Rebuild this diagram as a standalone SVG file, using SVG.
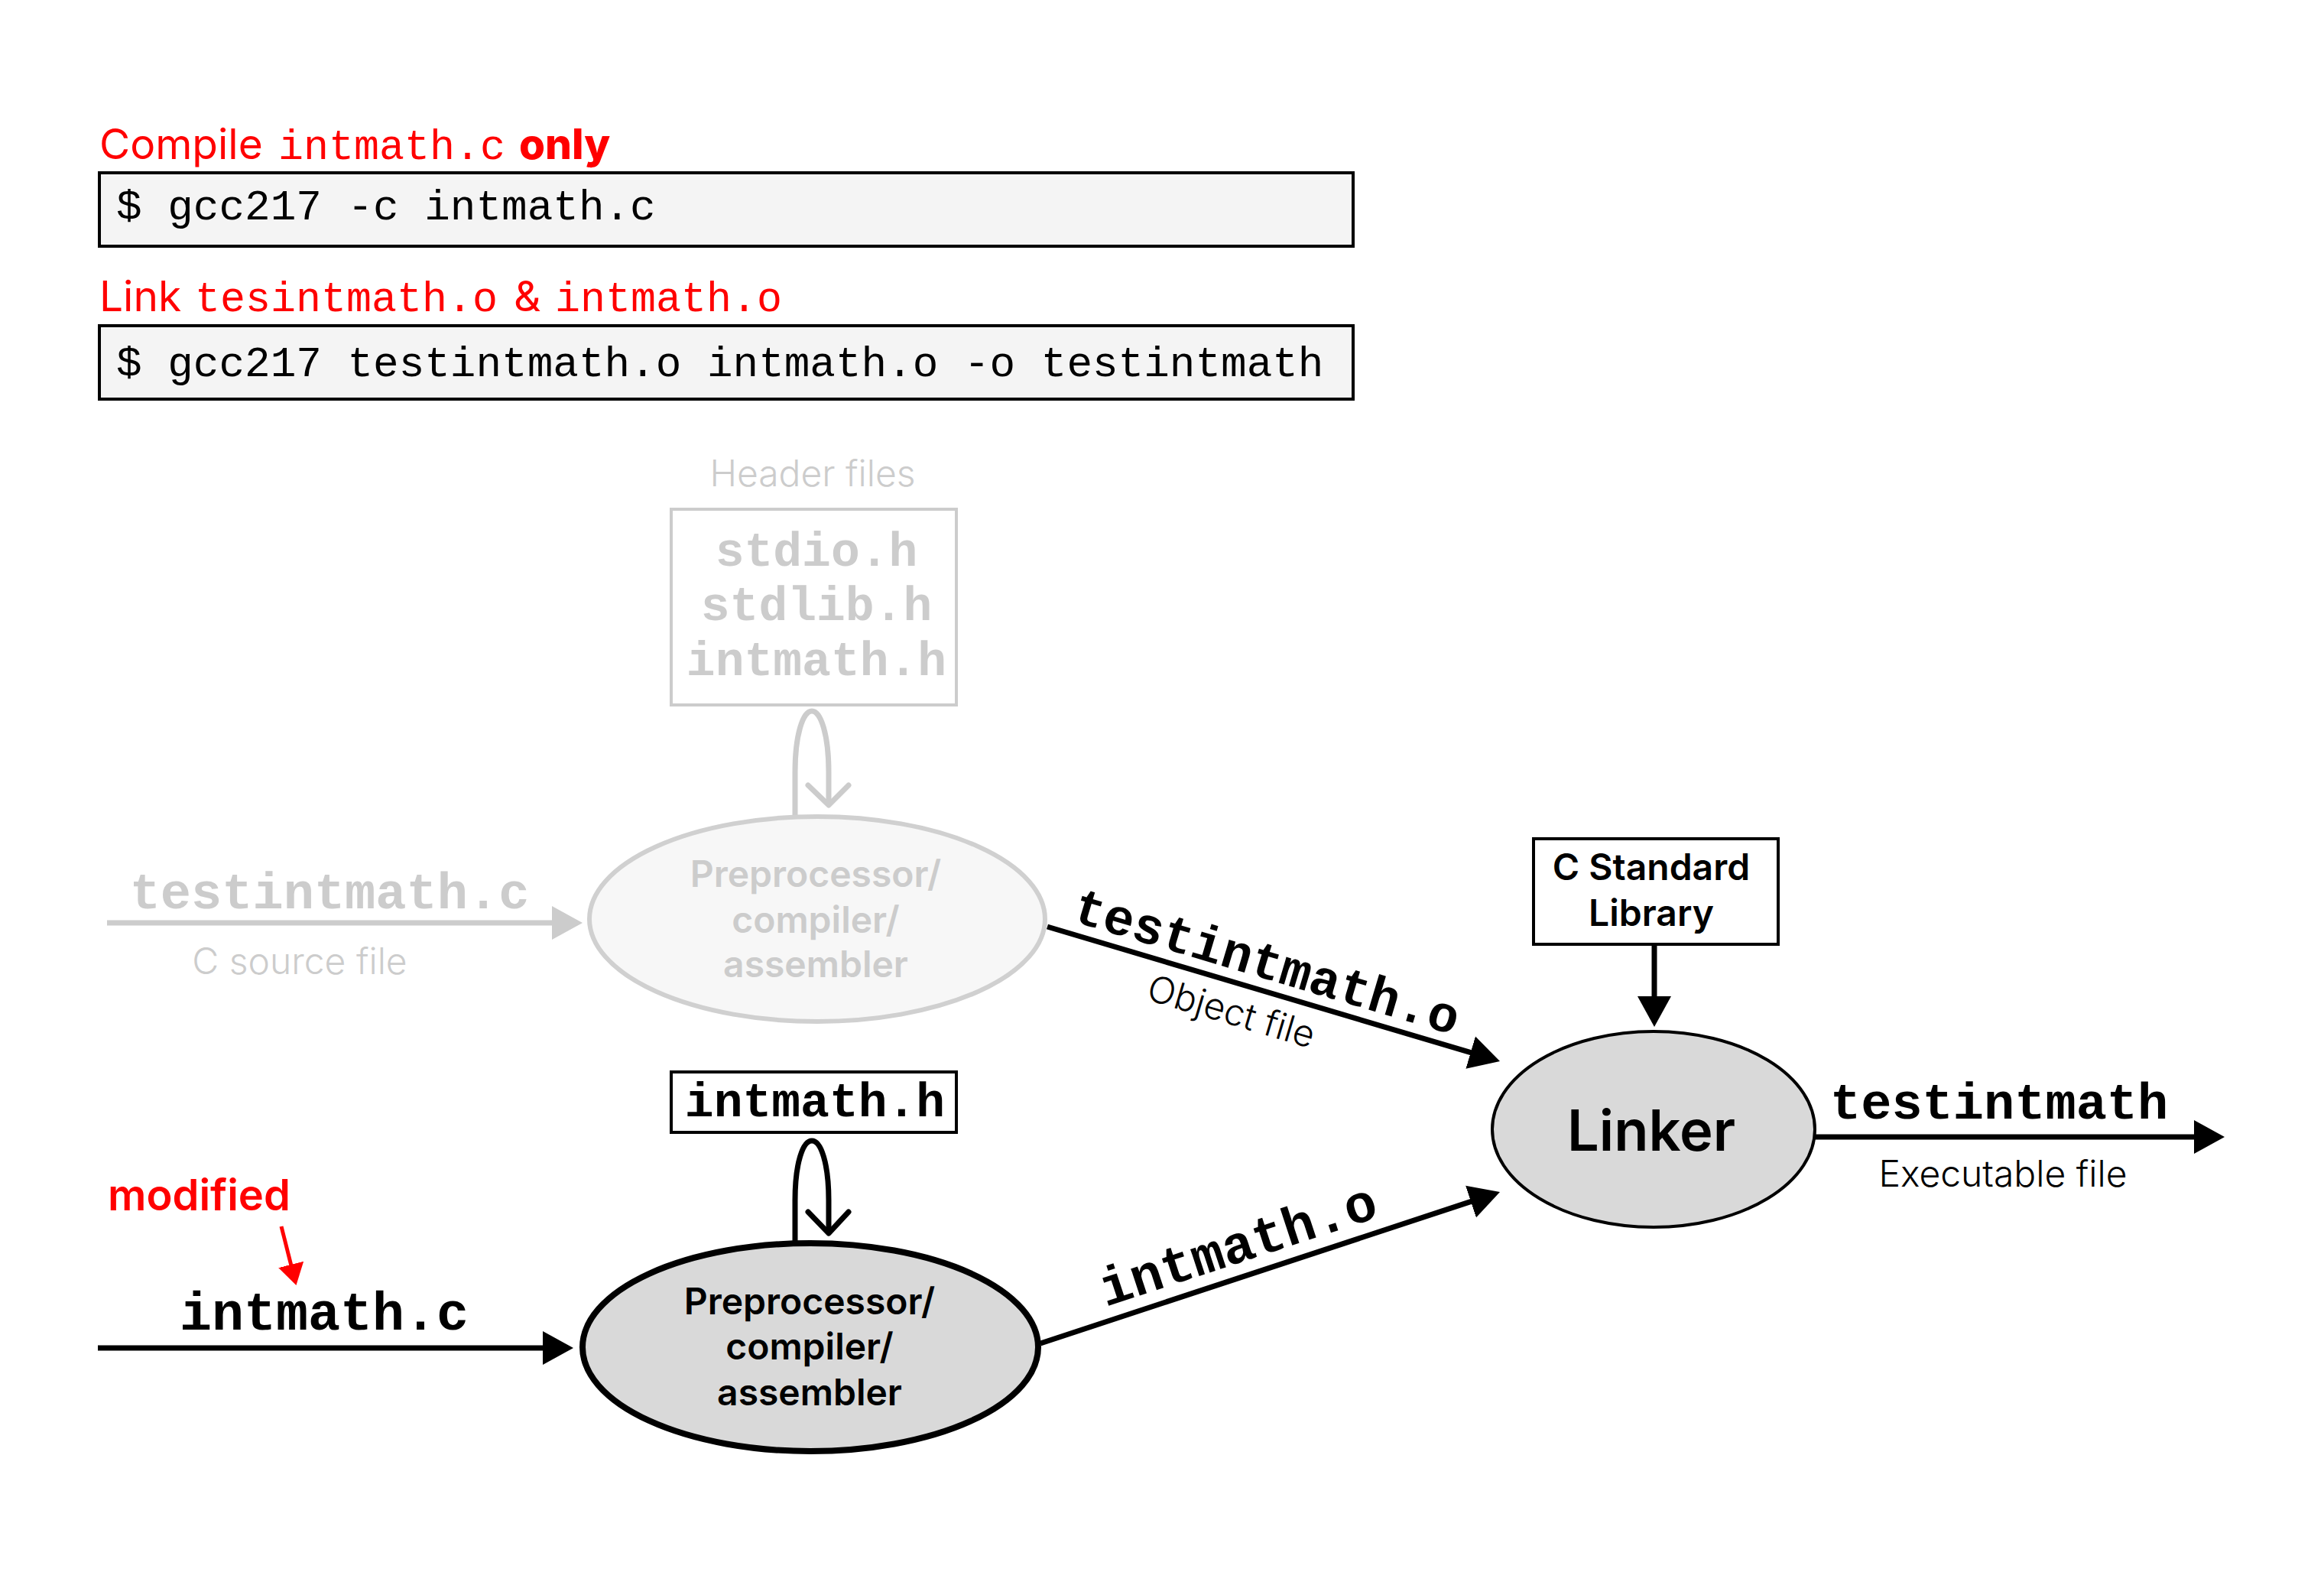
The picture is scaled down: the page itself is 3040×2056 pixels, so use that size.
<svg xmlns="http://www.w3.org/2000/svg" width="3040" height="2056" viewBox="0 0 3040 2056">
  <style>
    .sans { font-family: Inter, "Liberation Sans", sans-serif; }
    .mono { font-family: "Liberation Mono", "DejaVu Sans Mono", monospace; }
    .red { fill: #ff0000; }
    .cmdbox { fill: #f4f4f4; stroke: #000; stroke-width: 4; }
    .cmd { font-size: 56px; fill: #000; }
    .fname { font-weight: 700; }
    .note { font-weight: 300; font-size: 48px; }
    .proc { font-weight: 600; font-size: 48px; text-anchor: middle; }
    .faded { fill: #cccccc; }
    .wire { fill: none; stroke: #000; stroke-width: 7; }
    .wire-faded { fill: none; stroke: #cccccc; stroke-width: 7; }
  </style>
  <defs>
    <marker id="head" markerUnits="userSpaceOnUse" markerWidth="42" markerHeight="46" refX="2" refY="23" orient="auto">
      <path d="M0,1 L40,23 L0,45 z" fill="#000"/>
    </marker>
    <marker id="head-faded" markerUnits="userSpaceOnUse" markerWidth="42" markerHeight="46" refX="2" refY="23" orient="auto">
      <path d="M0,1 L40,23 L0,45 z" fill="#cccccc"/>
    </marker>
    <marker id="head-red" markerUnits="userSpaceOnUse" markerWidth="30" markerHeight="36" refX="2" refY="18" orient="auto">
      <path d="M0,1 L28,18 L0,35 z" fill="#ff0000"/>
    </marker>
  </defs>

  <rect width="3040" height="2056" fill="#ffffff"/>

  <!-- command panel: compile step -->
  <g id="compile-step">
    <text class="sans red" x="130" y="208" font-size="55">Compile</text>
    <text class="mono red" x="364" y="208" font-size="55">intmath.c</text>
    <text class="sans red" x="679" y="208" font-size="55" font-weight="800">only</text>
    <rect class="cmdbox" x="130" y="226" width="1640" height="96"/>
    <text class="mono cmd" x="152" y="287" xml:space="preserve">$ gcc217 -c intmath.c</text>
  </g>

  <!-- command panel: link step -->
  <g id="link-step">
    <text class="sans red" x="130" y="407" font-size="55">Link</text>
    <text class="mono red" x="255" y="407" font-size="55">tesintmath.o</text>
    <text class="sans red" x="672" y="407" font-size="55">&amp;</text>
    <text class="mono red" x="726" y="407" font-size="55">intmath.o</text>
    <rect class="cmdbox" x="130" y="426" width="1640" height="96"/>
    <text class="mono cmd" x="152" y="492" xml:space="preserve">$ gcc217 testintmath.o intmath.o -o testintmath</text>
  </g>

  <!-- connectors -->
  <g id="connectors">
    <!-- faded path: testintmath.c -> preprocessor -->
    <line class="wire-faded" x1="140" y1="1207" x2="724" y2="1207" marker-end="url(#head-faded)"/>
    <!-- faded header self-include loop -->
    <path class="wire-faded" stroke-width="6" d="M1040 1068 V1010 C1040 962 1050 930 1062 930 C1074 930 1084 962 1084 1010 V1053"/>
    <polyline class="wire-faded" stroke-width="6" stroke-linecap="round" stroke-linejoin="round" points="1057,1027 1084,1053 1110,1027"/>
    <!-- testintmath.o -> linker -->
    <line class="wire" x1="1370" y1="1212" x2="1925.6" y2="1377.2" marker-end="url(#head)"/>
    <!-- C standard library -> linker -->
    <line class="wire" x1="2164" y1="1235" x2="2164" y2="1305" marker-end="url(#head)"/>
    <!-- linker -> executable -->
    <line class="wire" stroke-width="8" x1="2374" y1="1487" x2="2872" y2="1487" marker-end="url(#head)"/>
    <!-- intmath.c -> preprocessor -->
    <line class="wire" stroke-width="8" x1="128" y1="1763" x2="712" y2="1763" marker-end="url(#head)"/>
    <!-- intmath.h self-include loop -->
    <path class="wire" d="M1040 1626 V1570 C1040 1522 1050 1492 1062 1492 C1074 1492 1084 1522 1084 1570 V1613"/>
    <polyline class="wire" stroke-linecap="round" stroke-linejoin="round" points="1057,1585 1084,1613 1110,1585"/>
    <!-- intmath.o -> linker -->
    <line class="wire" x1="1361" y1="1757" x2="1925.9" y2="1570.9" marker-end="url(#head)"/>
    <!-- "modified" pointer -->
    <line stroke="#ff0000" stroke-width="5" x1="368" y1="1604" x2="381.1" y2="1655.9" marker-end="url(#head-red)"/>
  </g>

  <!-- header files (faded) -->
  <g id="header-files">
    <text class="sans note faded" x="1063" y="636" text-anchor="middle">Header files</text>
    <rect x="878" y="666" width="373" height="256" fill="none" stroke="#cccccc" stroke-width="4"/>
    <text class="mono fname faded" x="1068" y="740" font-size="63" text-anchor="middle">stdio.h</text>
    <text class="mono fname faded" x="1068" y="811" font-size="63" text-anchor="middle">stdlib.h</text>
    <text class="mono fname faded" x="1068" y="883" font-size="63" text-anchor="middle">intmath.h</text>
  </g>

  <!-- faded source input label -->
  <g id="testintmath-c">
    <text class="mono fname faded" x="431" y="1188" font-size="67" text-anchor="middle">testintmath.c</text>
    <text class="sans note faded" x="392" y="1274" text-anchor="middle">C source file</text>
  </g>

  <!-- preprocessor / compiler / assembler (faded) -->
  <g id="compiler-faded">
    <ellipse cx="1069" cy="1202" rx="298" ry="134" fill="#f7f7f7" stroke="#d0d0d0" stroke-width="6"/>
    <text class="sans proc faded" x="1067" y="1160">Preprocessor/</text>
    <text class="sans proc faded" x="1067" y="1220">compiler/</text>
    <text class="sans proc faded" x="1067" y="1278">assembler</text>
  </g>

  <!-- testintmath.o label on the connector -->
  <g id="testintmath-o">
    <text class="mono fname" font-size="67" text-anchor="middle" transform="translate(1651 1279) rotate(16.6)">testintmath.o</text>
    <text class="sans note" fill="#000" text-anchor="middle" transform="translate(1606 1339) rotate(16.6)">Object file</text>
  </g>

  <!-- C standard library -->
  <g id="c-std-lib">
    <rect x="2006" y="1097" width="320" height="138" fill="#ffffff" stroke="#000" stroke-width="4"/>
    <text class="sans" x="2160" y="1151" font-size="48" font-weight="600" text-anchor="middle">C Standard</text>
    <text class="sans" x="2160" y="1211" font-size="48" font-weight="600" text-anchor="middle">Library</text>
  </g>

  <!-- linker -->
  <g id="linker">
    <ellipse cx="2163" cy="1477" rx="211" ry="128" fill="#d9d9d9" stroke="#000" stroke-width="4"/>
    <text class="sans" x="2160" y="1505" font-size="74" font-weight="600" text-anchor="middle">Linker</text>
  </g>

  <!-- executable output -->
  <g id="testintmath">
    <text class="mono fname" x="2394" y="1463" font-size="67">testintmath</text>
    <text class="sans note" fill="#000" x="2620" y="1552" font-size="50" text-anchor="middle">Executable file</text>
  </g>

  <!-- intmath.h -->
  <g id="intmath-h">
    <rect x="878" y="1402" width="373" height="79" fill="#ffffff" stroke="#000" stroke-width="4"/>
    <text class="mono fname" x="1066" y="1460" font-size="63" text-anchor="middle">intmath.h</text>
  </g>

  <!-- modified source -->
  <g id="intmath-c">
    <text class="sans red" x="141" y="1583" font-size="56" font-weight="600">modified</text>
    <text class="mono fname" x="235" y="1739" font-size="70">intmath.c</text>
  </g>

  <!-- preprocessor / compiler / assembler -->
  <g id="compiler">
    <ellipse cx="1060" cy="1762" rx="298" ry="136" fill="#d9d9d9" stroke="#000" stroke-width="8"/>
    <text class="sans proc" fill="#000" x="1059" y="1719">Preprocessor/</text>
    <text class="sans proc" fill="#000" x="1059" y="1778">compiler/</text>
    <text class="sans proc" fill="#000" x="1059" y="1838">assembler</text>
  </g>

  <!-- intmath.o label on the connector -->
  <g id="intmath-o">
    <text class="mono fname" font-size="70" text-anchor="middle" transform="translate(1626 1650) rotate(-18.2)">intmath.o</text>
  </g>
</svg>
